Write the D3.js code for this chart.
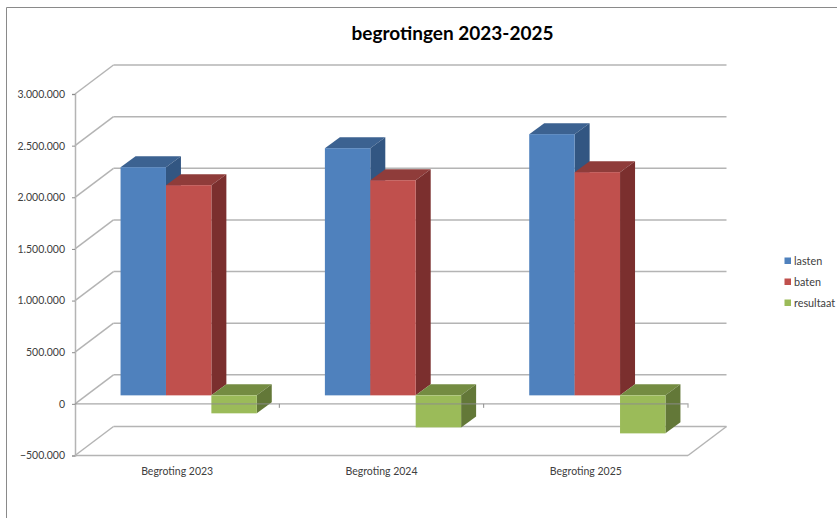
<!DOCTYPE html>
<html>
<head>
<meta charset="utf-8">
<script src="https://cdn.jsdelivr.net/npm/d3@7"></script>
<style>
  html, body { margin: 0; padding: 0; background: #fff; }
  svg { display: block; font-family: Lato, "Open Sans", sans-serif; }
</style>
</head>
<body>
<div id="chart"></div>
<script>
const categories = ['Begroting 2023', 'Begroting 2024', 'Begroting 2025'];
const seriesNames = ['lasten', 'baten', 'resultaat'];
const lasten = [2209000, 2393000, 2529000];
const baten = [2035000, 2083000, 2161000];
const resultaat = [-174000, -310000, -368000];
const yTicks = [-500000, 0, 500000, 1000000, 1500000, 2000000, 2500000, 3000000];

const seriesValues = [lasten, baten, resultaat];
const colors = [
  { front: '#4f81bd', top: '#3c6291', side: '#325682' },
  { front: '#c0504d', top: '#8f3c3a', side: '#7b2f2e' },
  { front: '#9bbb59', top: '#748c42', side: '#637838' }
];

const W = 837, H = 518;
const plot = { left: 75, right: 688, top: 94, bottom: 455.5 };
const wall = { dx: 38.5, dy: -29 };      // depth of the floor and side wall
const barShift = { dx: 11.5, dy: -8.5 }; // bars stand halfway into the floor
const barDepth = { dx: 15, dy: -11 };
const gridColor = '#b4b4b4', textColor = '#404040';

const svg = d3.select('#chart').append('svg')
  .attr('width', W).attr('height', H)
  .attr('viewBox', `0 0 ${W} ${H}`);

const xScale = d3.scaleBand().domain(categories)
  .range([plot.left, plot.right]).paddingInner(1 / 3).paddingOuter(1 / 6);
const seriesScale = d3.scaleBand().domain(seriesNames)
  .range([0, xScale.bandwidth()]);
const yScale = d3.scaleLinear().domain([-500000, 3000000])
  .range([plot.bottom, plot.top]);

const nl = d3.formatLocale({ decimal: ',', thousands: '.', grouping: [3], currency: ['€', ''] });

// Outer frame of the pasted chart
svg.append('path')
  .attr('d', `M6.5,${H}V7.5H${W}`)
  .attr('fill', 'none').attr('stroke', '#8a8a8a').attr('stroke-width', 1);

// Title
svg.append('text')
  .attr('x', 452.5).attr('y', 39.5)
  .attr('text-anchor', 'middle')
  .attr('font-size', '19px').attr('font-weight', 700).attr('fill', '#000')
  .text('begrotingen 2023-2025');

// Back wall lines and side wall diagonals
const walls = svg.append('g')
  .attr('fill', 'none').attr('stroke', gridColor).attr('stroke-width', 1.5);

walls.selectAll('line.back')
  .data(yTicks)
  .join('line')
  .attr('class', 'back')
  .attr('x1', plot.left + wall.dx).attr('x2', plot.right + wall.dx)
  .attr('y1', d => yScale(d) + wall.dy).attr('y2', d => yScale(d) + wall.dy);

walls.selectAll('line.diag')
  .data(yTicks)
  .join('line')
  .attr('class', 'diag')
  .attr('x1', plot.left).attr('x2', plot.left + wall.dx)
  .attr('y1', d => yScale(d)).attr('y2', d => yScale(d) + wall.dy);

// Floor edge on the right
walls.append('line')
  .attr('x1', plot.right).attr('x2', plot.right + wall.dx)
  .attr('y1', yScale(-500000)).attr('y2', yScale(-500000) + wall.dy);

// Front floor line
walls.append('line')
  .attr('x1', plot.left).attr('x2', plot.right)
  .attr('y1', yScale(-500000)).attr('y2', yScale(-500000));

// Y axis
svg.append('g')
  .attr('transform', `translate(${plot.left},0)`)
  .call(d3.axisLeft(yScale).tickValues(yTicks).tickSize(3).tickPadding(7).tickFormat(nl.format(',.0f')))
  .call(ax => ax.select('.domain').attr('stroke', gridColor).attr('stroke-width', 1.5))
  .call(ax => ax.selectAll('line').attr('stroke', '#8c8c8c'))
  .call(ax => ax.selectAll('text')
    .attr('font-family', 'Lato, "Open Sans", sans-serif')
    .attr('font-size', '10.5px').attr('fill', textColor));

// Bars, left to right so each one overlaps the side of the previous
const valueY = v => yScale(v) + barShift.dy;
const bars = [];
categories.forEach((cat, i) => {
  seriesNames.forEach((name, s) => {
    bars.push({ cat, name, s, value: seriesValues[s][i] });
  });
});

const barG = svg.selectAll('g.bar')
  .data(bars)
  .join('g')
  .attr('class', 'bar');

const geom = d => {
  const x0 = xScale(d.cat) + seriesScale(d.name) + barShift.dx;
  const x1 = x0 + seriesScale.bandwidth();
  const yTop = valueY(Math.max(d.value, 0));
  const yBot = valueY(Math.min(d.value, 0));
  return { x0, x1, yTop, yBot };
};

barG.append('path')
  .attr('fill', d => colors[d.s].top)
  .attr('d', d => {
    const g = geom(d);
    return `M${g.x0},${g.yTop}L${g.x0 + barDepth.dx},${g.yTop + barDepth.dy}H${g.x1 + barDepth.dx}L${g.x1},${g.yTop}Z`;
  });

barG.append('path')
  .attr('fill', d => colors[d.s].side)
  .attr('d', d => {
    const g = geom(d);
    return `M${g.x1},${g.yTop}L${g.x1 + barDepth.dx},${g.yTop + barDepth.dy}V${g.yBot + barDepth.dy}L${g.x1},${g.yBot}Z`;
  });

barG.append('rect')
  .attr('fill', d => colors[d.s].front)
  .attr('x', d => geom(d).x0)
  .attr('y', d => geom(d).yTop)
  .attr('width', seriesScale.bandwidth())
  .attr('height', d => geom(d).yBot - geom(d).yTop);

// Zero axis runs over the bars, with ticks between the categories
const step = xScale.step();
svg.append('path')
  .attr('d', `M${plot.left},${yScale(0)}H${plot.right}V${yScale(0) + 4}`)
  .attr('fill', 'none').attr('stroke', '#8c8c8c').attr('stroke-opacity', 0.75).attr('stroke-width', 1.2);

svg.selectAll('line.cat-tick')
  .data(categories.slice(0, -1))
  .join('line')
  .attr('class', 'cat-tick')
  .attr('x1', (d, i) => plot.left + step * (i + 1)).attr('x2', (d, i) => plot.left + step * (i + 1))
  .attr('y1', yScale(0)).attr('y2', yScale(0) + 4)
  .attr('stroke', '#8c8c8c');

// Category labels
svg.selectAll('text.cat')
  .data(categories)
  .join('text')
  .attr('class', 'cat')
  .attr('x', d => xScale(d) + xScale.bandwidth() / 2)
  .attr('y', 475)
  .attr('text-anchor', 'middle')
  .attr('font-size', '10.5px').attr('fill', textColor)
  .text(d => d);

// Legend
const legendY = d3.scalePoint().domain(seriesNames).range([260.5, 302.5]);
const legend = svg.selectAll('g.legend')
  .data(seriesNames)
  .join('g')
  .attr('class', 'legend')
  .attr('transform', d => `translate(784.5,${legendY(d)})`);

legend.append('rect')
  .attr('x', 0).attr('y', -3).attr('width', 6.5).attr('height', 6.5)
  .attr('fill', (d, i) => colors[i].front);

legend.append('text')
  .attr('x', 9.5).attr('y', 4)
  .attr('font-size', '10.8px').attr('fill', textColor)
  .text(d => d);
</script>
</body>
</html>
